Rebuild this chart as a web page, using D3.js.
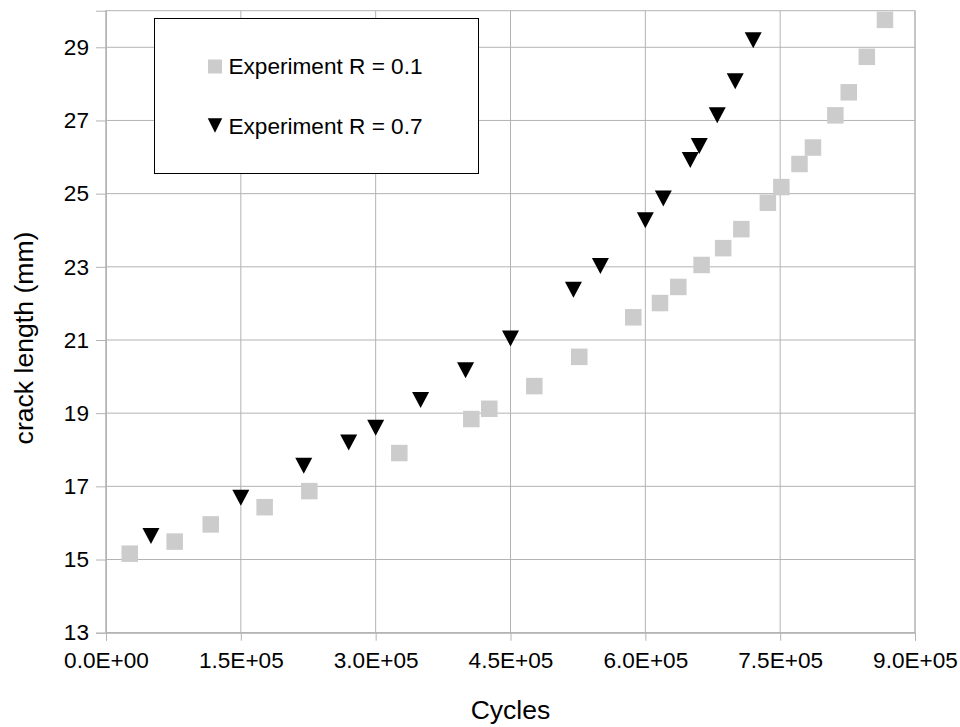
<!DOCTYPE html>
<html>
<head>
<meta charset="utf-8">
<script src="https://cdn.jsdelivr.net/npm/d3@7"></script>
<style>
  body { margin: 0; background: #fff; }
  text { font-family: "Liberation Sans", Arial, sans-serif; fill: #000; }
</style>
</head>
<body>
<svg id="chart"></svg>
<script>
// crack growth data
var cyclesR01 = [26400, 76400, 116500, 176500, 226200, 326300, 406400, 426400, 476500, 526500,
                 586600, 616300, 636700, 662600, 686600, 706800, 736300, 751300, 771500, 786500,
                 811400, 826300, 846400, 866600];
var crackR01 = [15.16, 15.49, 15.96, 16.43, 16.87, 17.91, 18.84, 19.12, 19.74, 20.54,
                21.62, 22.01, 22.45, 23.05, 23.51, 24.03, 24.75, 25.18, 25.81, 26.26,
                27.14, 27.77, 28.74, 29.75];

var cyclesR07 = [50000, 150000, 220000, 270000, 300000, 350000, 400000, 450000, 520000, 550000,
                 600000, 620000, 650000, 660000, 680000, 700000, 720000];
var crackR07 = [15.64, 16.69, 17.56, 18.20, 18.60, 19.36, 20.17, 21.04, 22.37, 23.02,
                24.27, 24.87, 25.92, 26.30, 27.14, 28.07, 29.19];

var xTicks = [0, 150000, 300000, 450000, 600000, 750000, 900000];
var yTicks = [13, 15, 17, 19, 21, 23, 25, 27, 29];
var seriesNames = ["Experiment R = 0.1", "Experiment R = 0.7"];

var W = 960, H = 727;
var margin = {top: 10.7, right: 45, bottom: 94.3, left: 106};
var width = W - margin.left - margin.right,
    height = H - margin.top - margin.bottom;

var svg = d3.select("#chart")
    .attr("width", W)
    .attr("height", H);

var g = svg.append("g")
    .attr("transform", "translate(" + margin.left + "," + margin.top + ")");

var x = d3.scaleLinear().domain([0, 900000]).range([0, width]);
var y = d3.scaleLinear().domain([13, 30]).range([height, 0]);

function sci(v) {
  if (v === 0) return "0.0E+00";
  var e = Math.floor(Math.log10(v));
  var m = v / Math.pow(10, e);
  return m.toFixed(1) + "E+" + (e < 10 ? "0" + e : e);
}

// grid
g.selectAll(".gx").data(xTicks).enter().append("line")
  .attr("x1", function(d) { return x(d); })
  .attr("x2", function(d) { return x(d); })
  .attr("y1", 0).attr("y2", height)
  .attr("stroke", "#b3b3b3").attr("stroke-width", 1);
g.selectAll(".gy").data(yTicks).enter().append("line")
  .attr("x1", 0).attr("x2", width)
  .attr("y1", function(d) { return y(d); })
  .attr("y2", function(d) { return y(d); })
  .attr("stroke", "#b3b3b3").attr("stroke-width", 1);

// frame
g.append("rect")
  .attr("width", width).attr("height", height)
  .attr("fill", "none").attr("stroke", "#b3b3b3").attr("stroke-width", 1);

// axes
var xAxis = g.append("g")
  .attr("transform", "translate(0," + height + ")")
  .call(d3.axisBottom(x).tickValues(xTicks).tickFormat(sci).tickSize(8).tickPadding(11));
var yAxis = g.append("g")
  .call(d3.axisLeft(y).tickValues(yTicks).tickSize(10).tickPadding(7));

[xAxis, yAxis].forEach(function(a) {
  a.select(".domain").attr("stroke", "#b3b3b3");
  a.selectAll(".tick line").attr("stroke", "#b3b3b3");
  a.selectAll(".tick text")
    .style("font-family", '"Liberation Sans", Arial, sans-serif')
    .style("font-size", "22.6px")
    .attr("fill", "#000");
});

// axis titles
svg.append("text")
  .attr("x", margin.left + width / 2)
  .attr("y", 719)
  .attr("text-anchor", "middle")
  .style("font-size", "26.5px")
  .text("Cycles");

svg.append("text")
  .attr("transform", "translate(33,338) rotate(-90)")
  .attr("text-anchor", "middle")
  .style("font-size", "26.6px")
  .text("crack length (mm)");

// markers
var sq = 16.5;
g.selectAll(".sq").data(cyclesR01).enter().append("rect")
  .attr("x", function(d) { return x(d) - sq / 2; })
  .attr("y", function(d, i) { return y(crackR01[i]) - sq / 2; })
  .attr("width", sq).attr("height", sq)
  .attr("fill", "#cccccc");

function triDown(cx, cy, w, h) {
  return "M" + (cx - w / 2) + "," + (cy - h / 2) +
         "L" + (cx + w / 2) + "," + (cy - h / 2) +
         "L" + cx + "," + (cy + h / 2) + "Z";
}

g.selectAll(".tri").data(cyclesR07).enter().append("path")
  .attr("d", function(d, i) { return triDown(x(d), y(crackR07[i]), 17, 16); })
  .attr("fill", "#000");

// legend
var leg = svg.append("g");
leg.append("rect")
  .attr("x", 154.5).attr("y", 18.5)
  .attr("width", 324).attr("height", 155)
  .attr("fill", "#fff").attr("stroke", "#000").attr("stroke-width", 1);

leg.append("rect")
  .attr("x", 208).attr("y", 59.5)
  .attr("width", 14).attr("height", 14)
  .attr("fill", "#cccccc");
leg.append("path")
  .attr("d", triDown(215, 125.5, 14.5, 14.5))
  .attr("fill", "#000");

leg.selectAll(".lt").data(seriesNames).enter().append("text")
  .attr("x", 228.5)
  .attr("y", function(d, i) { return 74 + i * 60; })
  .style("font-size", "22.6px")
  .text(function(d) { return d; });
</script>
</body>
</html>
